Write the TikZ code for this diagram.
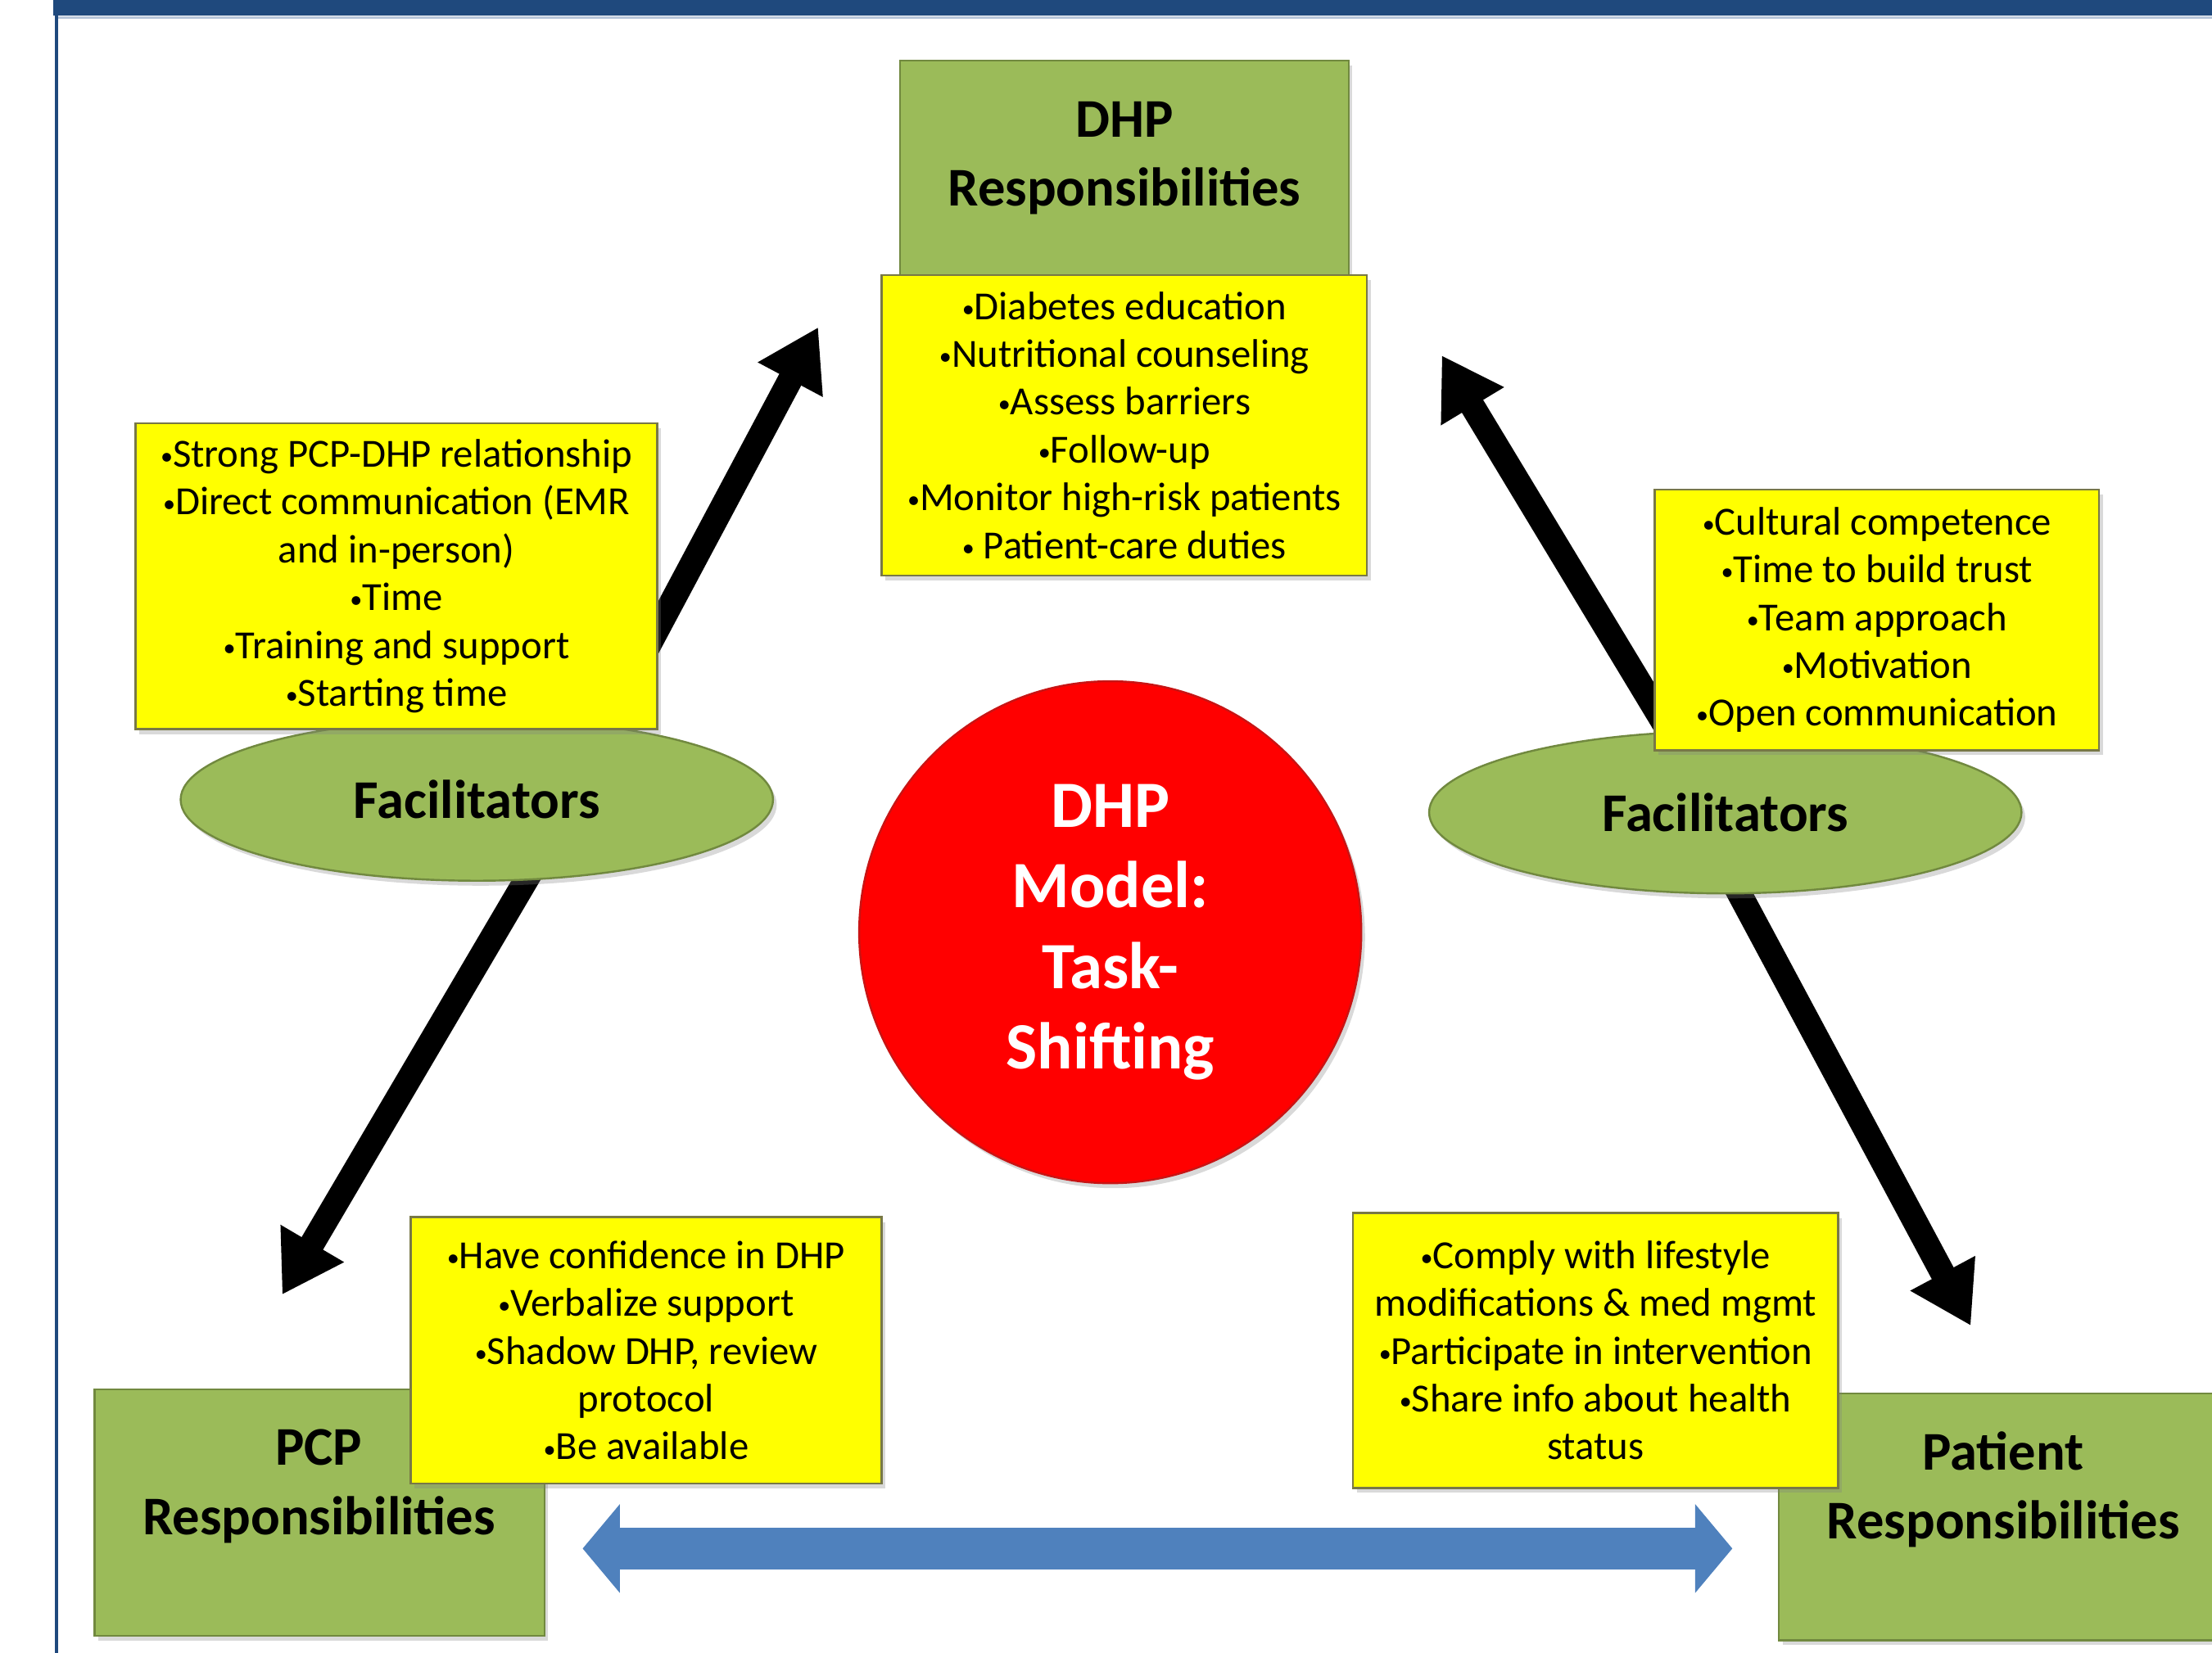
\documentclass[tikz,border=0pt]{standalone}
\usepackage{fontspec}
\setmainfont{Carlito}
\usetikzlibrary{arrows.meta,shapes.geometric,shadows}
\definecolor{barblue}{RGB}{31,73,125}
\definecolor{barpale}{RGB}{184,198,218}
\definecolor{respgreen}{RGB}{155,187,89}
\definecolor{respline}{RGB}{113,137,63}
\definecolor{notefill}{RGB}{255,255,0}
\definecolor{noteline}{RGB}{120,120,70}
\definecolor{hubred}{RGB}{255,0,0}
\definecolor{hubline}{RGB}{200,20,20}
\definecolor{linkblue}{RGB}{79,129,189}
\newcommand{\bul}{\raisebox{0.06em}{\scalebox{0.62}{•}}}
\tikzset{
  softshadow/.style={drop shadow={shadow xshift=1.5pt,shadow yshift=-2pt,opacity=.3}},
  respbox/.style={draw=respline, line width=.8pt, fill=respgreen, softshadow, inner sep=0pt},
  resptext/.style={align=center, font=\fontsize{22pt}{27.9pt}\selectfont\bfseries},
  notebox/.style={draw=noteline, line width=.8pt, fill=notefill, softshadow, align=center,
    inner sep=0pt, font=\fontsize{16.1pt}{19.3pt}\selectfont},
  facil/.style={ellipse, draw=respline, line width=.8pt, fill=respgreen, softshadow,
    minimum width=8.4cm, minimum height=2.3cm, inner sep=0pt,
    font=\fontsize{22pt}{26pt}\selectfont\bfseries},
  hub/.style={circle, draw=hubline, line width=.8pt, fill=hubred, softshadow, minimum size=7.12cm,
    inner sep=0pt, text=white, align=center, font=\fontsize{26.7pt}{32.4pt}\selectfont\bfseries},
  facarrow/.style={line width=10pt, -{Triangle[width=28pt,length=24pt]}},
  linkarrow/.style={draw=linkblue, line width=17pt,
    {Triangle[width=35pt,length=15pt]}-{Triangle[width=35pt,length=15pt]}}
}
\begin{document}
\begin{tikzpicture}[x=0.02cm,y=-0.02cm]
\useasboundingbox (0,0) rectangle (1568,1172);
\fill[barblue] (38,0) rectangle (1568,11);
\draw[barpale, line width=.8pt] (41,12.5) -- (1568,12.5);
\draw[barblue, line width=1.2pt] (40,0) -- (40,1172);

\coordinate (tailA) at (400,570);
\coordinate (tipA) at (580,232);
\coordinate (tailB) at (390,595);
\coordinate (tipB) at (200,918);
\coordinate (tailC) at (1208,560);
\coordinate (tipC) at (1022,252);
\coordinate (tailD) at (1215,600);
\coordinate (tipD) at (1397,940);
\draw[facarrow] (tailA) -- (tipA);
\draw[facarrow] (tailB) -- (tipB);
\draw[facarrow] (tailC) -- (tipC);
\draw[facarrow] (tailD) -- (tipD);

\node[facil] (lfac) at (338,567) {Facilitators};
\node[facil] (rfac) at (1223,576) {Facilitators};

\node[respbox, minimum width=6.36cm, minimum height=3.24cm] (dhpbox) at (797,124) {};
\node[resptext] (dhptitle) at (797,112) {DHP\\Responsibilities};
\node[notebox, minimum width=6.88cm, minimum height=4.26cm] (dhplist) at (797,301.5)
  {\bul Diabetes education\\\bul Nutritional counseling\\\bul Assess barriers\\\bul Follow-up\\\bul Monitor high-risk patients\\\bul\ Patient-care duties};

\node[notebox, minimum width=7.4cm, minimum height=4.34cm] (lfaclist) at (281,408.5)
  {\bul Strong PCP-DHP relationship\\\bul Direct communication (EMR\\and in-person)\\\bul Time\\\bul Training and support\\\bul Starting time};
\node[notebox, minimum width=6.3cm, minimum height=3.7cm] (rfaclist) at (1330.5,439.5)
  {\bul Cultural competence\\\bul Time to build trust\\\bul Team approach\\\bul Motivation\\\bul Open communication};

\node[hub] (hub) at (787,661) {DHP\\Model:\\Task-\\Shifting};

\node[respbox, minimum width=6.38cm, minimum height=3.5cm] (pcpbox) at (226.5,1072.5) {};
\node[resptext] (pcptitle) at (226,1054) {PCP\\Responsibilities};
\node[notebox, minimum width=6.68cm, minimum height=3.78cm] (pcplist) at (458,957.5)
  {\bul Have confidence in DHP\\\bul Verbalize support\\\bul Shadow DHP, review\\protocol\\\bul Be available};

\node[respbox, minimum width=6.36cm, minimum height=3.5cm] (patbox) at (1420,1075.5) {};
\node[resptext] (pattitle) at (1420,1056) {Patient\\Responsibilities};
\node[notebox, minimum width=6.88cm, minimum height=3.9cm] (patlist) at (1131,957.5)
  {\bul Comply with lifestyle\\modifications \& med mgmt\\\bul Participate in intervention\\\bul Share info about health\\status};

\coordinate (linkL) at (413,1098);
\coordinate (linkR) at (1228,1098);
\draw[linkarrow] (linkL) -- (linkR);
\end{tikzpicture}
\end{document}
